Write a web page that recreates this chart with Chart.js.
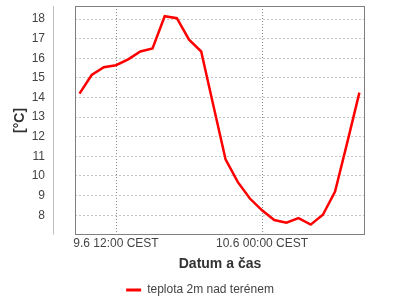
<!DOCTYPE html>
<html>
<head>
<meta charset="utf-8">
<script src="https://cdn.jsdelivr.net/npm/chart.js@4"></script>
<style>
  html, body { margin: 0; padding: 0; background: #fff; }
  #wrap { width: 400px; height: 300px; }
</style>
</head>
<body>
<div id="wrap"><canvas id="chart" width="400" height="300"></canvas></div>
<script>
/* ---------- Data ---------- */
// hours counted from 9.6 00:00
const hours = [9, 10, 11, 12, 13, 14, 15, 16, 17, 18, 19, 20,
               21, 22, 23, 24, 25, 26, 27, 28, 29, 30, 31, 32];
const temps = [14.2, 15.15, 15.55, 15.65, 15.95, 16.35, 16.5, 18.15, 18.05, 16.95, 16.35, 13.6,
               10.85, 9.7, 8.85, 8.25, 7.75, 7.62, 7.85, 7.52, 8.02, 9.2, 11.7, 14.25];
const tickHours = [12, 24];
const tickLabels = ["9.6 12:00 CEST", "10.6 00:00 CEST"];
const yTicks = [8, 9, 10, 11, 12, 13, 14, 15, 16, 17, 18];
const seriesName = "teplota 2m nad terénem";

const FONT = "'Liberation Sans', Arial, sans-serif";
const TXT = "#444";

/* ---------- Frame plugin ---------- */
const frame = {
  id: "frame",
  afterLayout(c) {
    // centre the legend over the whole canvas, not just the padded box
    c.legend.left = 0;
    c.legend.right = c.width;
  },
  beforeDatasetsDraw(c) {
    const a = c.chartArea;
    const ctx = c.ctx;
    ctx.save();
    ctx.strokeStyle = "#808080";
    ctx.lineWidth = 1;
    ctx.strokeRect(Math.round(a.left) + 0.5, Math.round(a.top) + 0.5,
      Math.round(a.width) - 1, Math.round(a.height) - 1);
    // detached y axis line
    ctx.strokeStyle = "#c0c0c0";
    ctx.beginPath();
    const x = Math.round(a.left) - 22 + 0.5;
    ctx.moveTo(x, a.top);
    ctx.lineTo(x, a.bottom);
    ctx.stroke();
    ctx.restore();
  }
};

/* ---------- Chart ---------- */
new Chart(document.getElementById("chart"), {
  type: "line",
  data: {
    datasets: [{
      label: seriesName,
      data: hours.map((h, i) => ({ x: h, y: temps[i] })),
      borderColor: "#ff0000",
      backgroundColor: "#ff0000",
      borderWidth: 2.5,
      pointRadius: 0,
      tension: 0
    }]
  },
  options: {
    responsive: false,
    animation: false,
    layout: { padding: { top: 6, right: 35, bottom: -6, left: 0 } },
    scales: {
      x: {
        type: "linear",
        min: 8.63,
        max: 32.46,
        afterBuildTicks: s => { s.ticks = tickHours.map(v => ({ value: v })); },
        ticks: {
          autoSkip: false,
          maxRotation: 0,
          padding: 2,
          color: TXT,
          font: { family: FONT, size: 12 },
          callback: v => tickLabels[tickHours.indexOf(v)] || ""
        },
        grid: { color: "#888", drawTicks: false },
        border: { display: false, dash: [1, 2] },
        title: {
          display: true,
          text: "Datum a čas",
          color: "#333",
          font: { family: FONT, size: 14, weight: "bold" },
          padding: { top: 3, bottom: 9 }
        }
      },
      y: {
        min: 7,
        max: 18.67,
        afterFit: s => { s.width = 75; s.paddingTop = 0; s.paddingBottom = 0; },
        afterBuildTicks: s => { s.ticks = yTicks.map(v => ({ value: v })); },
        ticks: {
          autoSkip: false,
          padding: 30,
          color: TXT,
          font: { family: FONT, size: 12 }
        },
        grid: { color: "#c4c4c4", drawTicks: false },
        border: { display: false, dash: [2, 2] },
        title: {
          display: true,
          text: "[°C]",
          color: "#333",
          font: { family: FONT, size: 14, weight: "bold" },
          padding: { top: 12, bottom: 0 }
        }
      }
    },
    plugins: {
      legend: {
        position: "bottom",
        labels: {
          boxWidth: 15,
          boxHeight: 3,
          padding: 2,
          color: TXT,
          font: { family: FONT, size: 12 },
          generateLabels: c => Chart.defaults.plugins.legend.labels.generateLabels(c)
            .map(l => ({ ...l, lineWidth: 0 }))
        }
      },
      tooltip: { enabled: false }
    }
  },
  plugins: [frame]
});
</script>
</body>
</html>
